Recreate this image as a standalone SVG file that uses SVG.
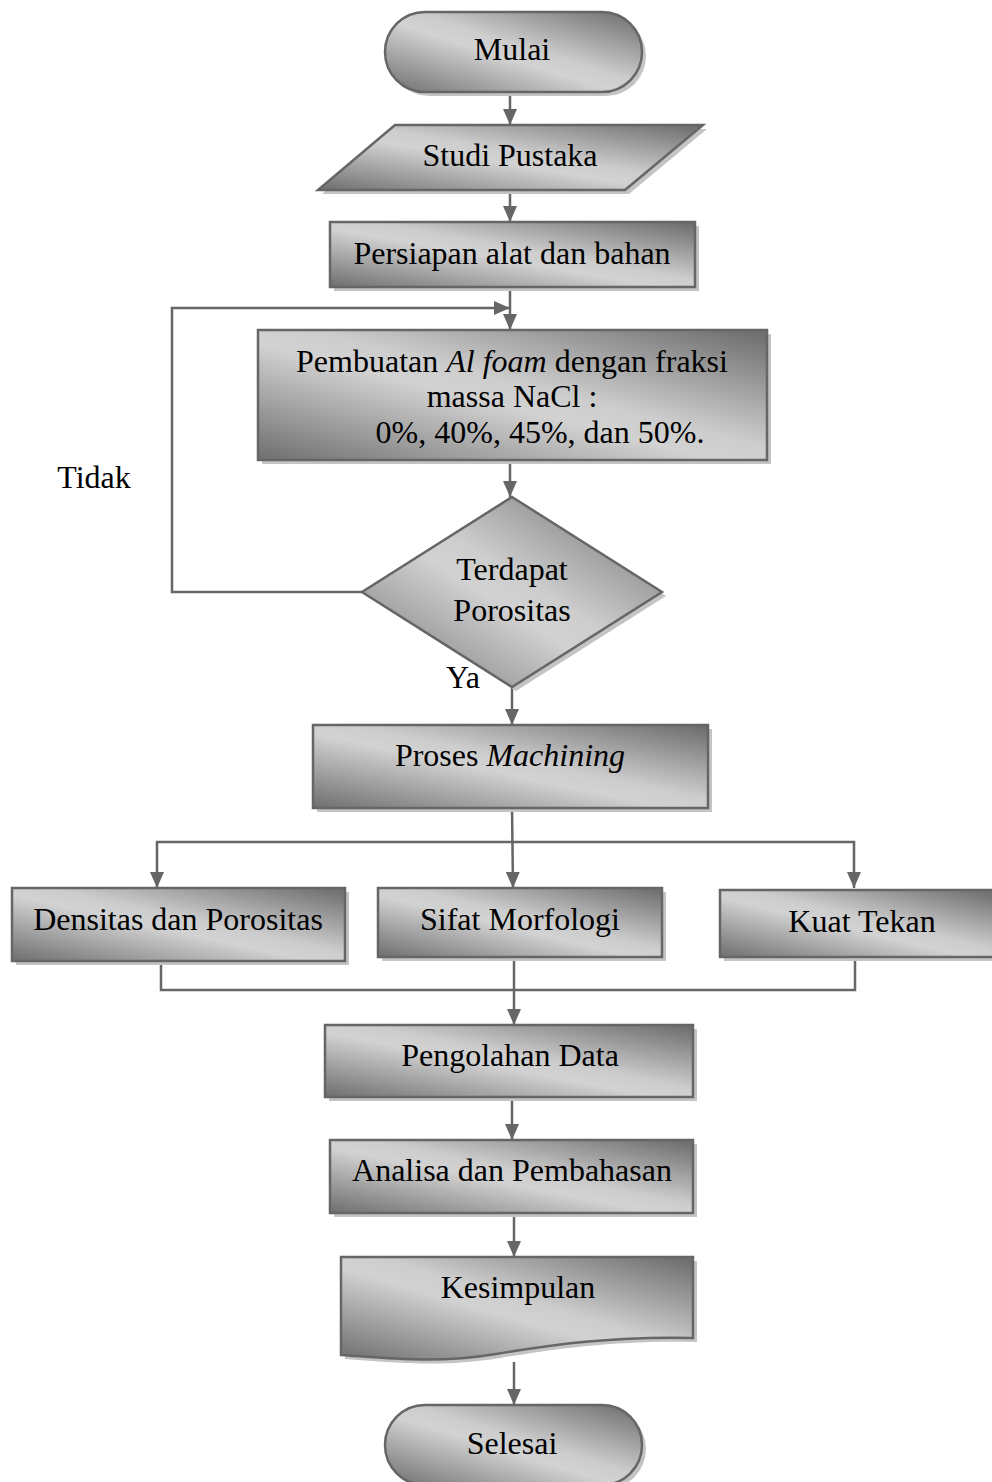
<svg xmlns="http://www.w3.org/2000/svg" width="992" height="1482" viewBox="0 0 992 1482">
<defs>
<linearGradient id="g" x1="0" y1="1" x2="1" y2="0">
<stop offset="0" stop-color="#6e6e6e"/>
<stop offset="0.45" stop-color="#d2d2d2"/>
<stop offset="0.55" stop-color="#cdcdcd"/>
<stop offset="1" stop-color="#6a6a6a"/>
</linearGradient>
<marker id="ah" viewBox="0 0 16 14" refX="16" refY="7" markerWidth="16" markerHeight="14" markerUnits="userSpaceOnUse" orient="auto-start-reverse">
<path d="M0,0 L16,7 L0,14 Z" fill="#666"/>
</marker>
</defs>
<style>
.s{fill:url(#g);stroke:#666;stroke-width:2.5}
.sh{fill:#c4c4c4;stroke:none}
.t{font-family:"Liberation Serif","Times New Roman",serif;font-size:32px;fill:#000;text-anchor:middle}
.ln{fill:none;stroke:#666;stroke-width:2.5}
</style>
<rect width="992" height="1482" fill="#fff"/>

<g id="connectors">
<line class="ln" x1="510" y1="92" x2="510" y2="125" marker-end="url(#ah)"/>
<line class="ln" x1="510" y1="190" x2="510" y2="222" marker-end="url(#ah)"/>
<line class="ln" x1="510" y1="287" x2="510" y2="330" marker-end="url(#ah)"/>
<polyline class="ln" points="362,592 172,592 172,308 510,308" marker-end="url(#ah)"/>
<line class="ln" x1="510" y1="460" x2="510" y2="497" marker-end="url(#ah)"/>
<line class="ln" x1="512" y1="687" x2="512" y2="725" marker-end="url(#ah)"/>
<line class="ln" x1="512" y1="808" x2="513" y2="888" marker-end="url(#ah)"/>
<polyline class="ln" points="157,888 157,842 854,842 854,888" marker-start="url(#ah)" marker-end="url(#ah)"/>
<polyline class="ln" points="161,961 161,990 855,990 855,957"/>
<line class="ln" x1="514" y1="957" x2="514" y2="1025" marker-end="url(#ah)"/>
<line class="ln" x1="512" y1="1097" x2="512" y2="1140" marker-end="url(#ah)"/>
<line class="ln" x1="514" y1="1213" x2="514" y2="1257" marker-end="url(#ah)"/>
<line class="ln" x1="514" y1="1362" x2="514" y2="1405" marker-end="url(#ah)"/>
</g>

<g id="mulai">
<rect class="sh" x="389" y="16" width="257" height="80" rx="40"/>
<rect class="s" x="385" y="12" width="257" height="80" rx="40"/>
<text class="t" x="512" y="60">Mulai</text>
</g>

<g id="studi">
<polygon class="sh" points="399,129 707,129 629,194 322,194"/>
<polygon class="s" points="395,125 703,125 625,190 318,190"/>
<text class="t" x="510" y="166">Studi Pustaka</text>
</g>

<g id="persiapan">
<rect class="sh" x="334" y="226" width="365" height="65"/>
<rect class="s" x="330" y="222" width="365" height="65"/>
<text class="t" x="512" y="264">Persiapan alat dan bahan</text>
</g>

<g id="pembuatan">
<rect class="sh" x="262" y="334" width="509" height="130"/>
<rect class="s" x="258" y="330" width="509" height="130"/>
<text class="t" x="512" y="372">Pembuatan <tspan font-style="italic">Al foam</tspan> dengan fraksi</text>
<text class="t" x="512" y="407">massa NaCl :</text>
<text class="t" x="540" y="443">0%, 40%, 45%, dan 50%.</text>
</g>

<g id="terdapat">
<polygon class="sh" points="516,501 666,596 516,691 366,596"/>
<polygon class="s" points="512,497 662,592 512,687 362,592"/>
<text class="t" x="512" y="580">Terdapat</text>
<text class="t" x="512" y="621">Porositas</text>
</g>

<g id="labels">
<text class="t" x="94" y="488">Tidak</text>
<text class="t" x="463" y="688">Ya</text>
</g>

<g id="machining">
<rect class="sh" x="317" y="729" width="395" height="83"/>
<rect class="s" x="313" y="725" width="395" height="83"/>
<text class="t" x="510" y="766">Proses <tspan font-style="italic">Machining</tspan></text>
</g>

<g id="densitas">
<rect class="sh" x="16" y="892" width="333" height="73"/>
<rect class="s" x="12" y="888" width="333" height="73"/>
<text class="t" x="178" y="930">Densitas dan Porositas</text>
</g>

<g id="sifat">
<rect class="sh" x="382" y="892" width="284" height="69"/>
<rect class="s" x="378" y="888" width="284" height="69"/>
<text class="t" x="520" y="930">Sifat Morfologi</text>
</g>

<g id="kuat">
<rect class="sh" x="724" y="894" width="272" height="67"/>
<rect class="s" x="720" y="890" width="275" height="67"/>
<text class="t" x="862" y="932">Kuat Tekan</text>
</g>

<g id="pengolahan">
<rect class="sh" x="329" y="1029" width="368" height="72"/>
<rect class="s" x="325" y="1025" width="368" height="72"/>
<text class="t" x="510" y="1066">Pengolahan Data</text>
</g>

<g id="analisa">
<rect class="sh" x="334" y="1144" width="363" height="73"/>
<rect class="s" x="330" y="1140" width="363" height="73"/>
<text class="t" x="512" y="1181">Analisa dan Pembahasan</text>
</g>

<g id="kesimpulan">
<path class="sh" d="M345,1261 L697,1261 L697,1342 C620,1340 560,1348 500,1358 C440,1368 390,1362 345,1359 Z"/>
<path class="s" d="M341,1257 L693,1257 L693,1338 C616,1336 556,1344 496,1354 C436,1364 386,1358 341,1355 Z"/>
<text class="t" x="518" y="1298">Kesimpulan</text>
</g>

<g id="selesai">
<rect class="sh" x="389" y="1409" width="257" height="80" rx="40"/>
<rect class="s" x="385" y="1405" width="257" height="80" rx="40"/>
<text class="t" x="512" y="1454">Selesai</text>
</g>
</svg>
